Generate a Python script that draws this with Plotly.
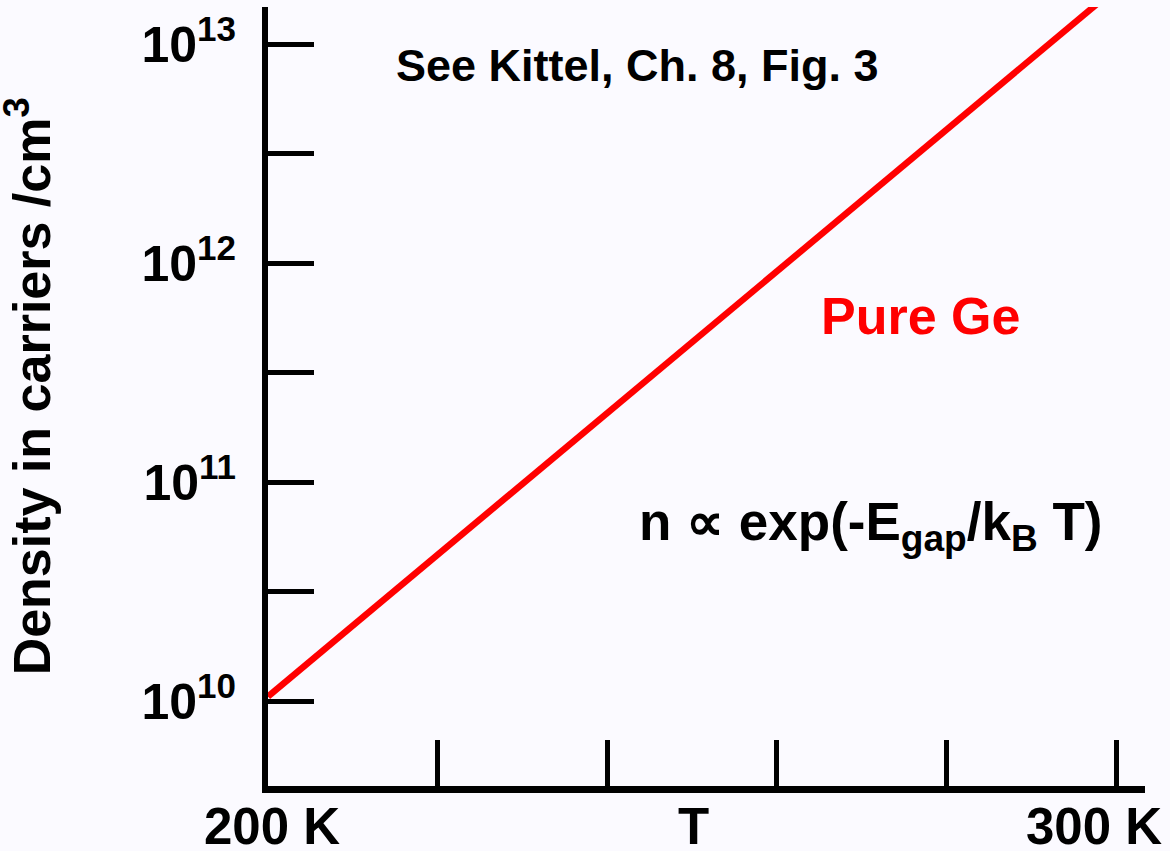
import plotly.graph_objects as go

# ---- data ----
temperature_K = [200, 300]
density_cm3 = [1.05e10, 1.8e13]

y_tick_vals = [1e10, 10**10.5, 1e11, 10**11.5, 1e12, 10**12.5, 1e13]
y_tick_text = ["10<sup>10</sup>", "", "10<sup>11</sup>", "", "10<sup>12</sup>", "", "10<sup>13</sup>"]
x_tick_vals = [200, 220, 240, 260, 280, 300]
x_label_vals = [200, 300]
x_label_text = ["200 K", "300 K"]

FONT = "Liberation Sans, Arial, Helvetica, sans-serif"
BG = "#FBFAFF"

fig = go.Figure()
fig.add_trace(go.Scatter(
    x=temperature_K, y=density_cm3, mode="lines",
    line=dict(color="#FF0000", width=6.5), hoverinfo="skip", showlegend=False,
))

fig.update_layout(
    width=1170, height=851,
    margin=dict(l=268, r=25, t=7, b=65),
    paper_bgcolor=BG, plot_bgcolor=BG,
    font=dict(family=FONT, color="black", weight="bold"),
    showlegend=False,
)

fig.update_xaxes(
    range=[200, 303.42], showline=True, linecolor="black", linewidth=7,
    ticks="inside", ticklen=46, tickwidth=5, tickcolor="black",
    tickvals=x_tick_vals, showticklabels=False,
    showgrid=False, zeroline=False,
)
fig.update_yaxes(
    type="log", range=[9.612, 13.169], showline=True, linecolor="black", linewidth=6,
    ticks="inside", ticklen=46, tickwidth=5, tickcolor="black",
    tickvals=y_tick_vals, ticktext=y_tick_text,
    tickfont=dict(family=FONT, size=50, color="black", weight="bold"),
    ticklabelstandoff=16,
    showgrid=False, zeroline=False,
)

def ann(text, x, y, size, color="black", xref="x", yref="y", **kw):
    fig.add_annotation(text=text, x=x, y=y, xref=xref, yref=yref, showarrow=False,
                       font=dict(family=FONT, size=size, color=color, weight="bold"),
                       xanchor="center", yanchor="middle", **kw)

ann("See Kittel, Ch. 8, Fig. 3", 243.6, 12.90, 45)
ann("Pure Ge", 276.9, 11.758, 52, color="#FF0000")
ann("n \u221d exp(-E<sub>gap</sub>/k<sub>B</sub> T)", 271.1, 10.80, 53)

# x-axis labels
shifts = [4, -22]
for v, t, s in zip(x_label_vals, x_label_text, shifts):
    ann(t, v, -0.052, 51, yref="paper", xshift=s)
ann("T", 250.2, -0.052, 51, yref="paper")

# y-axis title
ann("Density in carriers /cm<sup>3</sup>", 0, 0.513, 52, xref="paper", yref="paper",
    textangle=-90, xshift=-239)

fig.write_html(
    "out.html",
    config={"displayModeBar": False},
    post_script="document.body.style.margin='0';document.body.style.overflow='hidden';"
                "document.body.style.background='" + BG + "';",
)
